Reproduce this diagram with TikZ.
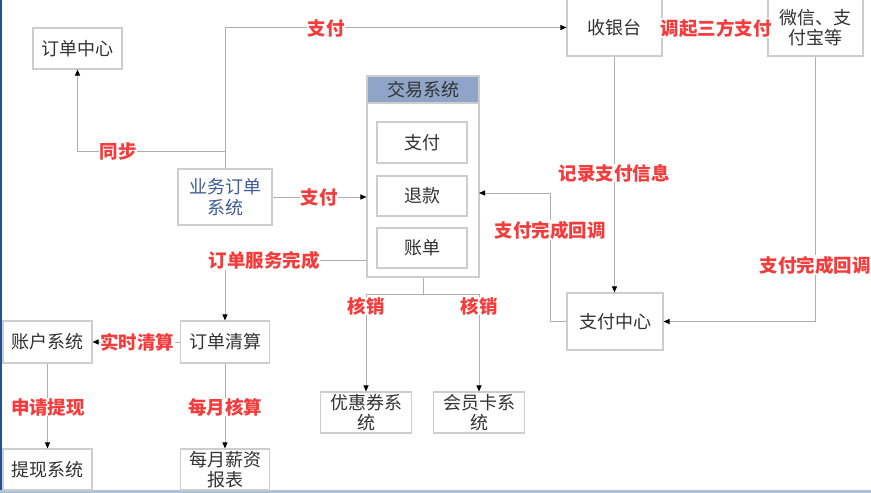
\documentclass[tikz,border=0pt]{standalone}
\usepackage{fontspec}
\setmainfont{Noto Sans CJK SC}
\usetikzlibrary{arrows.meta}
\definecolor{boxc}{RGB}{205,205,205}
\definecolor{linec}{RGB}{175,175,175}
\definecolor{lblred}{RGB}{245,60,60}
\definecolor{txt}{RGB}{50,50,50}
\definecolor{bluetxt}{RGB}{60,92,150}
\definecolor{hdr}{RGB}{143,165,200}
\definecolor{edgeblue}{RGB}{40,80,140}
\definecolor{edgelight}{RGB}{170,195,215}
\begin{document}
\begin{tikzpicture}[x=1pt,y=-1pt,
  box/.style={draw=boxc, line width=1.1pt, fill=white, text=txt, align=center,
    inner sep=0pt, font=\fontsize{18}{20.5}\selectfont, minimum width=#1},
  box/.default=89pt,
  lbl/.style={fill=white, text=lblred, inner sep=0.5pt, font=\fontsize{18.5}{20}\selectfont\bfseries},
  conn/.style={draw=linec, line width=1pt},
  arr/.style={conn, -{Triangle[length=6pt,width=5pt,black]}}
]
\useasboundingbox (0,0) rectangle (871,493);
\fill[white] (0,0) rectangle (871,493);
\fill[edgeblue] (0,0) rectangle (2,493);
\fill[edgelight] (0,489.5) rectangle (871,493);

% nodes
\node[box, minimum height=41pt] (oc) at (77.5,48.5) {订单中心};
\node[box=94pt, minimum height=56pt, text=bluetxt] (ywdd) at (225,197) {业务订单\\系统};
\node[draw=boxc, line width=1.1pt, minimum width=112pt, minimum height=201pt, inner sep=0pt] (jy) at (423,176.5) {};
\node[draw=boxc, line width=1.1pt, fill=hdr, minimum width=112pt, minimum height=27pt, inner sep=0pt, text=txt, font=\fontsize{18}{20}\selectfont] (jyh) at (423,89.5) {交易系统};
\node[box=90pt, minimum height=41pt] (zf) at (422,142.5) {支付};
\node[box=90pt, minimum height=40pt] (tk) at (422,196) {退款};
\node[box=90pt, minimum height=40pt] (zd) at (422,248) {账单};
\node[box=95pt, minimum height=57pt] (syt) at (614.5,27.5) {收银台};
\node[box=95pt, minimum height=57pt] (wx) at (815.5,27.5) {微信、支\\付宝等};
\node[box=96pt, minimum height=57pt] (zfzx) at (615,321.5) {支付中心};
\node[box, minimum height=42pt] (zh) at (47.5,342) {账户系统};
\node[box, minimum height=42pt] (ddqs) at (225,342) {订单清算};
\node[box, minimum height=41pt] (tx) at (47.5,469.5) {提现系统};
\node[box, minimum height=41pt] (xz) at (225,469.5) {每月薪资\\报表};
\node[box=91pt, minimum height=41pt] (yhq) at (366,412.5) {优惠券系\\统};
\node[box=91pt, minimum height=41pt] (hyk) at (479,412.5) {会员卡系\\统};

% coordinates
\coordinate (j1) at (225,151);
\coordinate (j2) at (367,260);
\coordinate (k0) at (423,294);
\coordinate (k1) at (366,294);
\coordinate (k2) at (479,294);
\coordinate (p1) at (550,321.5);
\coordinate (p2) at (479,193);

% connectors
\draw[arr] (ywdd.north) |- (syt.west);
\draw[arr] (j1) -| (oc.south);
\draw[arr] (ywdd.east) -- (ywdd.east -| jy.west);
\draw[arr] (j2) -| (ddqs.north);
\draw[arr] (ddqs.west) -- (zh.east);
\draw[arr] (zh.south) -- (tx.north);
\draw[arr] (ddqs.south) -- (xz.north);
\draw[conn] (jy.south) -- (k0);
\draw[conn] (k1) -- (k2);
\draw[arr] (k1) -- (yhq.north);
\draw[arr] (k2) -- (hyk.north);
\draw[arr] (syt.south) -- (syt.south |- zfzx.north);
\draw[conn] (syt.east) -- (wx.west);
\draw[arr] (wx.south) |- (zfzx.east);
\draw[arr] (zfzx.west) -- (p1) |- (p2);

% labels
\node[lbl] (l1) at (326,28) {支付};
\node[lbl] (l2) at (118,151) {同步};
\node[lbl] (l3) at (319,197) {支付};
\node[lbl] (l4) at (264,260) {订单服务完成};
\node[lbl] (l5) at (137,342) {实时清算};
\node[lbl] (l6) at (48,407) {申请提现};
\node[lbl] (l7) at (225,407) {每月核算};
\node[lbl] (l8) at (366,306) {核销};
\node[lbl] (l9) at (479,306) {核销};
\node[lbl] (l10) at (614,173) {记录支付信息};
\node[lbl] (l11) at (716,28) {调起三方支付};
\node[lbl] (l12) at (815,265) {支付完成回调};
\node[lbl] (l13) at (550,230) {支付完成回调};
\end{tikzpicture}
\end{document}
